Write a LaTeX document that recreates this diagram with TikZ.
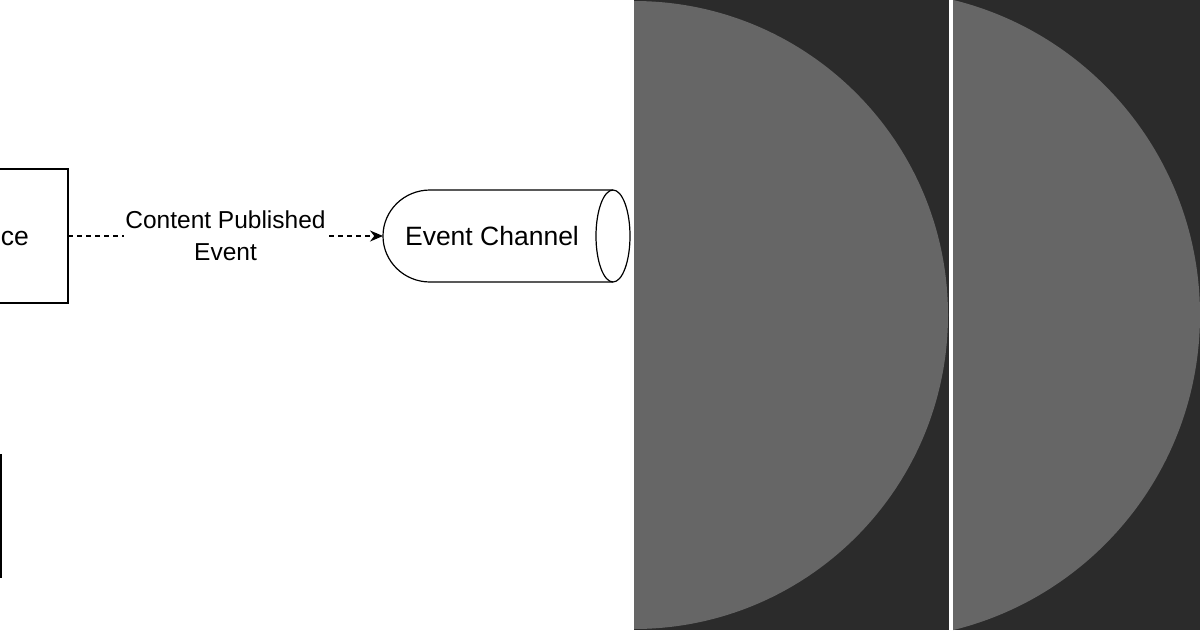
\documentclass[tikz,border=0pt]{standalone}
\usepackage{fontspec}
\setmainfont{Liberation Sans}
\usetikzlibrary{arrows.meta}
\begin{document}
\begin{tikzpicture}[x=1pt,y=-1pt,
  box/.style={draw,line width=1.2pt},
  lbl/.style={font=\fontsize{26.5}{30}\selectfont}]
\useasboundingbox (0,0) rectangle (1200,630);
\fill[white] (0,0) rectangle (1200,630);
\begin{scope}
\clip (0,0) rectangle (634,630);
\draw[box] (-120,169) rectangle (68,303);
\node[lbl,anchor=east,inner sep=0pt] (svc) at (29,236) {Service};
\coordinate (svcE) at (68,236);
\draw[box] (-120,455) rectangle (1,577);
\draw[box] (430,190) -- (613,190) arc[start angle=90,end angle=-90,x radius=17pt,y radius=46pt] -- (430,282) arc[start angle=270,end angle=90,x radius=47pt,y radius=46pt] -- cycle;
\draw[box] (613,190) arc[start angle=90,end angle=270,x radius=17pt,y radius=46pt];
\node[lbl] (ch) at (492,236) {Event Channel};
\coordinate (chW) at (383,236);
\draw[line width=1.1pt,dash pattern=on 5pt off 4pt,-{Stealth[length=13pt,width=11pt]}] (svcE) -- (chW)
  node[midway,fill=white,inner sep=1pt,align=center,font=\fontsize{24.5}{32}\selectfont] (ev) {Content Published\\Event};
\end{scope}
\fill[black!83] (634,0) rectangle (1200,630);
\begin{scope}
\clip (634,0) rectangle (949,630);
\fill[black!60] (634,315) circle (314);
\end{scope}
\fill[white] (949,0) rectangle (953,630);
\begin{scope}
\clip (953,0) rectangle (1200,630);
\fill[black!60] (875.6,315) circle (324.4);
\end{scope}
\end{tikzpicture}
\end{document}
